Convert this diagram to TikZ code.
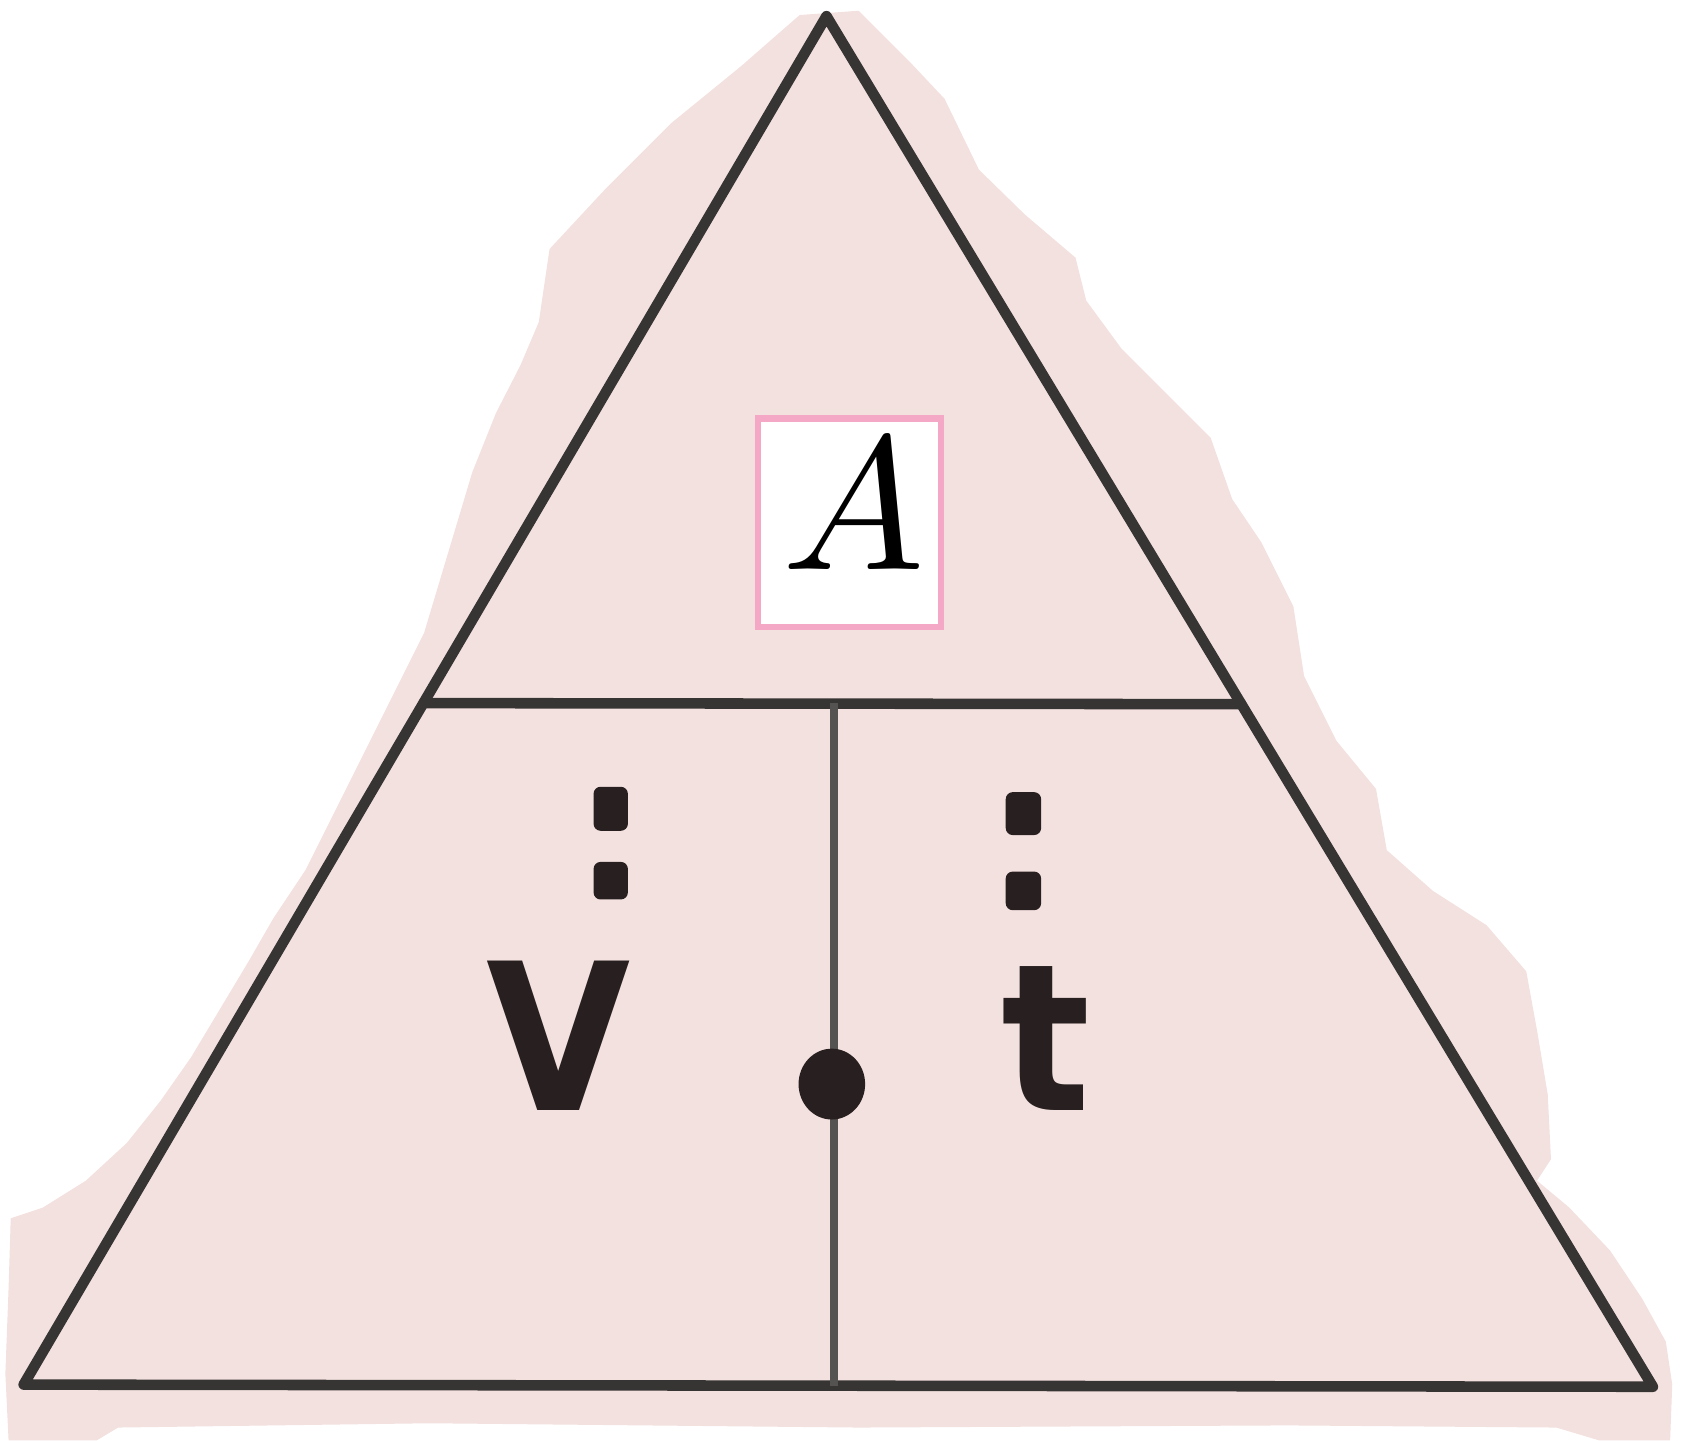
\documentclass[tikz,border=0pt]{standalone}
\usepackage{fontspec}
\newfontfamily\vtfont{DejaVu Sans}
\usetikzlibrary{calc}
\definecolor{paper}{RGB}{243,225,223}
\definecolor{ink}{RGB}{55,52,52}
\definecolor{boxpink}{RGB}{245,168,198}
\definecolor{letter}{RGB}{40,32,32}
\tikzset{
  edge/.style={draw=ink, line width=3pt, line join=round, line cap=round},
  divider/.style={draw=ink!85, line width=2.4pt},
  bigletter/.style={font=\vtfont\bfseries\fontsize{53}{53}\selectfont, text=letter, inner sep=0pt, anchor=base},
  colondot/.style={fill=letter, rounded corners=2pt},
}
\begin{document}
\begin{tikzpicture}[x=0.010733cm, y=-0.010733cm]
\useasboundingbox (0,0) rectangle (1568,1342);
% torn paper background
\fill[paper] (745,14) -- (690,62) -- (625,115) -- (565,175) -- (512,232) -- (502,300) -- (485,340)
  -- (462,385) -- (440,440) -- (425,490) -- (410,540) -- (395,590) -- (375,630) -- (350,680)
  -- (330,720) -- (305,770) -- (285,810) -- (255,855) -- (232,895) -- (205,940) -- (178,985)
  -- (150,1025) -- (118,1065) -- (80,1100) -- (40,1125) -- (10,1135) -- (8,1200) -- (5,1280)
  -- (8,1342) -- (90,1342) -- (110,1330) -- (400,1326) -- (800,1330) -- (1200,1328)
  -- (1450,1330) -- (1490,1342) -- (1556,1342) -- (1558,1290) -- (1552,1250) -- (1530,1210)
  -- (1500,1165) -- (1462,1125) -- (1432,1100) -- (1445,1080) -- (1442,1020) -- (1432,960)
  -- (1422,905) -- (1385,862) -- (1335,830) -- (1292,792) -- (1282,735) -- (1245,690)
  -- (1215,630) -- (1205,565) -- (1175,505) -- (1148,465) -- (1128,408) -- (1092,372)
  -- (1045,325) -- (1012,280) -- (1002,240) -- (955,200) -- (912,158) -- (880,92)
  -- (848,58) -- (800,10) -- cycle;
% triangle
\coordinate (apex) at (770,15);
\coordinate (bl) at (22,1290);
\coordinate (br) at (1540,1292);
\coordinate (hl) at ($(apex)!0.502!(bl)$);
\coordinate (hr) at ($(apex)!0.502!(br)$);
\coordinate (vt) at (777,655);
\coordinate (vb) at (777,1291);
\draw[edge] (apex) -- (bl) -- (br) -- cycle;
\draw[edge] (hl) -- (hr);
\draw[divider] (vt) -- (vb);
\fill[letter] (775,1010) ellipse [x radius=31, y radius=33];
\node[circle, minimum size=0pt, inner sep=0pt] (dot) at (775,1010) {};
% A box
\node[draw=boxpink, line width=1.8pt, fill=white, minimum width=171*0.010733cm,
      minimum height=194*0.010733cm, inner sep=0pt] (abox) at (791.5,487) {};
\node[inner sep=0pt, text=black] (A) at (795,470) {\scalebox{5.4}{$A$}};
% letters
\node[bigletter] (V) at (520,1035) {\scalebox{1}[1.1]{V}};
\node[bigletter] (t) at (975,1035) {\scalebox{1}[1.1]{t}};
% division marks
\fill[colondot] (553,733) rectangle (585,774);
\fill[colondot] (553,803) rectangle (585,838);
\fill[colondot] (937,738) rectangle (970,778);
\fill[colondot] (937,812) rectangle (970,848);
\end{tikzpicture}
\end{document}
